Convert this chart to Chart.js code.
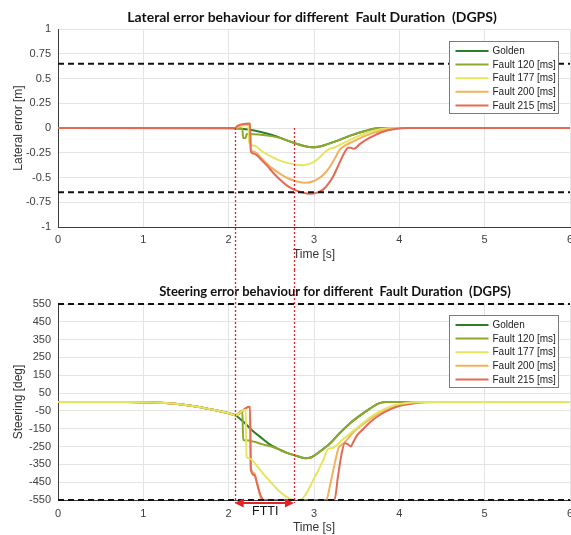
<!DOCTYPE html>
<html>
<head>
<meta charset="utf-8">
<script src="https://cdn.jsdelivr.net/npm/chart.js@4.4.0/dist/chart.umd.min.js"></script>
<style>
  html, body { margin: 0; padding: 0; background: #fff; }
  #wrap { position: relative; width: 571px; height: 535px; overflow: hidden; }
  canvas { display: block; }
</style>
</head>
<body>
<div id="wrap">
  <canvas id="grafico-lateral" width="571" height="270"></canvas>
  <canvas id="grafico-steering" width="571" height="265"></canvas>
</div>
<script>
// ticks
const xTicks = [0, 1, 2, 3, 4, 5, 6];
const latTicks = [-1, -0.75, -0.5, -0.25, 0, 0.25, 0.5, 0.75, 1];
const steerTicks = [-550, -450, -350, -250, -150, -50, 50, 150, 250, 350, 450, 550];

const seriesNames = ['Golden', 'Fault 120 [ms]', 'Fault 177 [ms]', 'Fault 200 [ms]', 'Fault 215 [ms]'];
const seriesColors = ['#2b7f27', '#8ea82d', '#e3e65e', '#f0b25e', '#e36a55'];

// safety limits (dashed) and fault tolerant time interval
const latLimit = 0.65;
const steerLimit = 550;
const fttiStart = 2.07;
const fttiEnd = 2.765;

// lateral error [m] -> [time s, value]
const latGolden = [[0,0],[2.0,-0.002],[2.1,-0.005],[2.2,-0.012],[2.3,-0.025],[2.4,-0.045],[2.5,-0.068],[2.6,-0.097],[2.7,-0.13],[2.8,-0.16],[2.9,-0.185],[2.97,-0.195],[3.05,-0.19],[3.15,-0.165],[3.3,-0.12],[3.45,-0.07],[3.6,-0.03],[3.72,-0.006],[3.82,0],[6,0]];
const latF120 = [[0,0],[2.08,0],[2.16,-0.01],[2.17,-0.1],[2.2,-0.1],[2.21,-0.06],[2.3,-0.063],[2.4,-0.07],[2.5,-0.082],[2.6,-0.1],[2.7,-0.13],[2.8,-0.16],[2.9,-0.185],[2.97,-0.195],[3.05,-0.19],[3.15,-0.165],[3.3,-0.12],[3.45,-0.07],[3.6,-0.03],[3.72,-0.006],[3.85,0],[6,0]];
const latF177 = [[0,0],[2.08,0],[2.1,0.01],[2.23,0.03],[2.24,-0.15],[2.3,-0.18],[2.4,-0.24],[2.5,-0.29],[2.6,-0.33],[2.7,-0.355],[2.8,-0.372],[2.88,-0.375],[2.97,-0.355],[3.05,-0.31],[3.12,-0.25],[3.18,-0.21],[3.23,-0.2],[3.28,-0.18],[3.35,-0.15],[3.5,-0.09],[3.65,-0.04],[3.8,-0.01],[3.95,0],[6,0]];
const latF200 = [[0,0],[2.08,0],[2.1,0.015],[2.25,0.04],[2.26,-0.22],[2.3,-0.24],[2.4,-0.32],[2.5,-0.4],[2.6,-0.46],[2.7,-0.51],[2.8,-0.54],[2.9,-0.553],[3.0,-0.535],[3.1,-0.48],[3.18,-0.4],[3.25,-0.3],[3.3,-0.22],[3.34,-0.19],[3.45,-0.14],[3.6,-0.08],[3.75,-0.035],[3.9,-0.01],[4.05,0],[6,0]];
const latF215 = [[0,0],[2.08,0],[2.1,0.02],[2.25,0.045],[2.26,-0.24],[2.3,-0.26],[2.37,-0.31],[2.45,-0.38],[2.53,-0.46],[2.6,-0.52],[2.68,-0.58],[2.76,-0.62],[2.84,-0.645],[2.95,-0.665],[3.03,-0.655],[3.11,-0.62],[3.18,-0.55],[3.23,-0.48],[3.3,-0.35],[3.35,-0.26],[3.4,-0.2],[3.43,-0.2],[3.47,-0.21],[3.54,-0.16],[3.65,-0.1],[3.8,-0.04],[3.95,-0.01],[4.1,0],[6,0]];

// steering [deg] -> [time s, value]
const steerGolden = [[0,0],[0.8,0],[1.0,-1],[1.2,-4],[1.4,-11],[1.6,-24],[1.8,-42],[1.9,-52],[2.0,-63],[2.08,-75],[2.17,-110],[2.27,-157],[2.38,-200],[2.49,-241],[2.6,-268],[2.7,-288],[2.78,-300],[2.9,-316],[2.97,-310],[3.05,-285],[3.19,-232],[3.3,-175],[3.42,-120],[3.55,-72],[3.66,-36],[3.74,-12],[3.8,-2],[3.85,0],[6,0]];
const steerF120 = [[0,0],[0.8,0],[1.0,-1],[1.2,-4],[1.4,-11],[1.6,-24],[1.8,-42],[1.9,-52],[2.0,-63],[2.08,-75],[2.16,-48],[2.17,-213],[2.2,-215],[2.3,-223],[2.4,-238],[2.5,-250],[2.6,-268],[2.7,-288],[2.78,-300],[2.9,-316],[2.97,-310],[3.05,-285],[3.19,-232],[3.3,-175],[3.42,-120],[3.55,-72],[3.66,-36],[3.74,-12],[3.8,-2],[3.85,0],[6,0]];
const steerF177 = [[0,0],[0.8,0],[1.0,-1],[1.2,-4],[1.4,-11],[1.6,-24],[1.8,-42],[1.9,-52],[2.0,-63],[2.08,-75],[2.17,-46],[2.2,-44],[2.21,-310],[2.25,-318],[2.3,-340],[2.37,-382],[2.49,-448],[2.6,-504],[2.68,-532],[2.76,-550],[2.84,-550],[2.9,-520],[3.0,-430],[3.1,-335],[3.17,-262],[3.22,-258],[3.33,-213],[3.52,-139],[3.72,-67],[3.92,-21],[4.11,-4],[4.3,0],[6,0]];
const steerF200 = [[0,0],[0.8,0],[1.0,-1],[1.2,-4],[1.4,-11],[1.6,-24],[1.8,-42],[1.9,-52],[2.0,-63],[2.08,-75],[2.24,-28],[2.25,-28],[2.26,-370],[2.3,-400],[2.33,-450],[2.36,-510],[2.39,-550],[3.14,-550],[3.2,-440],[3.25,-330],[3.29,-255],[3.32,-242],[3.36,-225],[3.46,-170],[3.56,-130],[3.66,-95],[3.78,-58],[3.9,-30],[4.05,-10],[4.2,0],[6,0]];
const steerF215 = [[0,0],[0.8,0],[1.0,-1],[1.2,-4],[1.4,-11],[1.6,-24],[1.8,-42],[1.9,-52],[2.0,-63],[2.08,-75],[2.24,-26],[2.25,-26],[2.26,-380],[2.3,-410],[2.34,-470],[2.37,-520],[2.41,-550],[3.24,-550],[3.28,-420],[3.32,-300],[3.36,-232],[3.4,-238],[3.43,-250],[3.46,-225],[3.5,-190],[3.58,-150],[3.66,-112],[3.78,-70],[3.9,-40],[4.02,-20],[4.14,-10],[4.3,-2],[4.45,0],[6,0]];

const FONT = '"Liberation Sans", Arial, sans-serif';

// title, legend box, FTTI markers
const decorPlugin = {
  id: 'decor',
  afterDraw(chart, args, o) {
    const { ctx, chartArea: ca, scales } = chart;
    ctx.save();

    ctx.font = 'bold ' + o.titleSize + 'px Lato, sans-serif';
    ctx.fillStyle = '#111';
    ctx.textAlign = 'center';
    ctx.textBaseline = 'middle';
    ctx.fillText(o.title, o.titleX, o.titleY);

    // FTTI dotted markers
    const xa = scales.x.getPixelForValue(fttiStart);
    const xb = scales.x.getPixelForValue(fttiEnd);
    const y0 = o.markFromZero ? scales.y.getPixelForValue(0) : 0;
    const y1 = o.arrowY ? o.arrowY : chart.height;
    ctx.strokeStyle = '#e3232b';
    ctx.lineWidth = 1.3;
    ctx.setLineDash([2, 2]);
    [xa, xb].forEach(x => {
      ctx.beginPath();
      ctx.moveTo(Math.round(x) + 0.5, y0);
      ctx.lineTo(Math.round(x) + 0.5, y1);
      ctx.stroke();
    });
    ctx.setLineDash([]);

    if (o.arrowY) {
      const y = o.arrowY;
      ctx.lineWidth = 2;
      ctx.beginPath();
      ctx.moveTo(xa + 6, y);
      ctx.lineTo(xb - 6, y);
      ctx.stroke();
      ctx.fillStyle = '#e3232b';
      ctx.beginPath();
      ctx.moveTo(xa, y); ctx.lineTo(xa + 9, y - 4.5); ctx.lineTo(xa + 9, y + 4.5); ctx.closePath();
      ctx.moveTo(xb, y); ctx.lineTo(xb - 9, y - 4.5); ctx.lineTo(xb - 9, y + 4.5); ctx.closePath();
      ctx.fill();
      ctx.fillStyle = '#111';
      ctx.font = '12.5px ' + FONT;
      ctx.textAlign = 'center';
      ctx.fillText('FTTI', (xa + xb) / 2 + 1, o.fttiY);
    }

    // legend
    const bw = 109, bh = 72;
    const bx = Math.round(ca.right - 12 - bw) + 0.5;
    const by = Math.round(ca.top + o.legendOffset) + 0.5;
    ctx.fillStyle = '#fff';
    ctx.fillRect(bx, by, bw, bh);
    ctx.strokeStyle = '#7b7b7b';
    ctx.lineWidth = 1;
    ctx.strokeRect(bx, by, bw, bh);
    ctx.font = '10px ' + FONT;
    ctx.textAlign = 'left';
    ctx.textBaseline = 'middle';
    seriesNames.forEach((name, i) => {
      const ry = by + 9.5 + i * 13.6;
      ctx.strokeStyle = seriesColors[i];
      ctx.lineWidth = 2;
      ctx.beginPath();
      ctx.moveTo(bx + 6, ry);
      ctx.lineTo(bx + 39, ry);
      ctx.stroke();
      ctx.fillStyle = '#222';
      ctx.fillText(name, bx + 43, ry + 0.5);
    });
    ctx.restore();
  }
};

function pontos(arr) {
  return arr.map(p => ({ x: p[0], y: p[1] }));
}

function criarGrafico(id, cfg) {
  const series = cfg.series.map((arr, i) => ({
    label: seriesNames[i],
    data: pontos(arr),
    borderColor: seriesColors[i],
    borderWidth: 2,
    order: cfg.order[i],
    cubicInterpolationMode: 'monotone'
  }));
  const limites = [cfg.limit, -cfg.limit].map(v => ({
    label: 'limit',
    data: pontos([[xTicks[0], v], [xTicks[xTicks.length - 1], v]]),
    borderColor: '#111',
    borderWidth: 2,
    borderDash: [6, 4],
    clip: false,
    order: -1
  }));

  return new Chart(document.getElementById(id), {
    type: 'line',
    data: { datasets: series.concat(limites) },
    options: {
      responsive: false,
      animation: false,
      events: [],
      layout: { padding: { top: cfg.padTop, right: 1, bottom: 0, left: 0 } },
      elements: { point: { radius: 0 } },
      plugins: {
        legend: { display: false },
        tooltip: { enabled: false },
        decor: cfg.decor
      },
      scales: {
        x: {
          type: 'linear',
          min: xTicks[0],
          max: xTicks[xTicks.length - 1],
          afterBuildTicks: s => { s.ticks = xTicks.map(v => ({ value: v })); },
          afterFit: s => { s.height = cfg.xHeight; s.paddingLeft = 0; s.paddingRight = 0; },
          grid: { color: '#e4e4e4', drawTicks: false },
          border: { color: '#3c3c3c', width: 1 },
          ticks: { padding: cfg.xTickPad, color: '#404040', font: { family: FONT, size: 11 }, maxRotation: 0 },
          title: { display: true, text: 'Time [s]', color: '#333', font: { family: FONT, size: 12 }, padding: { top: 0, bottom: cfg.xTitlePad } }
        },
        y: {
          type: 'linear',
          min: cfg.yTicks[0],
          max: cfg.yTicks[cfg.yTicks.length - 1],
          afterBuildTicks: s => { s.ticks = cfg.yTicks.map(v => ({ value: v })); },
          afterFit: s => { s.width = 58; },
          grid: { color: '#e4e4e4', drawTicks: false },
          border: { color: '#3c3c3c', width: 1 },
          ticks: { padding: 7, color: '#404040', font: { family: FONT, size: 11 }, callback: v => String(v) },
          title: { display: true, text: cfg.yTitle, color: '#333', font: { family: FONT, size: 12 }, padding: { top: 11, bottom: 0 } }
        }
      }
    },
    plugins: [decorPlugin]
  });
}

criarGrafico('grafico-lateral', {
  series: [latGolden, latF120, latF177, latF200, latF215],
  order: [4, 3, 2, 1, 0],
  limit: latLimit,
  yTicks: latTicks,
  yTitle: 'Lateral error [m]',
  padTop: 29,
  xHeight: 43,
  xTickPad: 6,
  xTitlePad: 8,
  decor: { title: 'Lateral error behaviour for different  Fault Duration  (DGPS)', titleSize: 14, titleX: 312, titleY: 17, legendOffset: 11.5, markFromZero: true }
});

criarGrafico('grafico-steering', {
  series: [steerGolden, steerF120, steerF177, steerF200, steerF215],
  order: [4, 3, 0, 2, 1],
  limit: steerLimit,
  yTicks: steerTicks,
  yTitle: 'Steering [deg]',
  padTop: 34,
  xHeight: 35,
  xTickPad: 7,
  xTitlePad: 0,
  decor: { title: 'Steering error behaviour for different  Fault Duration  (DGPS)', titleSize: 13, titleX: 335, titleY: 22, legendOffset: 10.5, markFromZero: false, arrowY: 233, fttiY: 242 }
});
</script>
</body>
</html>
